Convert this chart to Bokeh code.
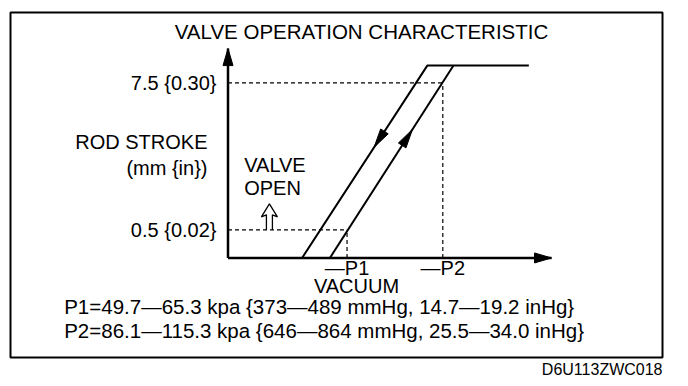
import math
from bokeh.plotting import figure
from bokeh.models import Range1d, Title
from bokeh.core.properties import value
from bokeh.embed import file_html
from bokeh.resources import INLINE

# ---------------- data (schematic: vacuum along x, rod stroke in mm along y) ----------------
STROKE_REST = -0.84          # level of the closed-valve baseline on the drawing
STROKE_FULL = 8.32           # full stroke plateau
closing_vacuum = [22.9, 61.6, 93.0]
closing_stroke = [STROKE_REST, STROKE_FULL, STROKE_FULL]
opening_vacuum = [31.5, 69.7]
opening_stroke = [STROKE_REST, STROKE_FULL]
stroke_ticks = [7.5, 0.5]
stroke_tick_labels = ["7.5 {0.30}", "0.5 {0.02}"]
vacuum_ticks = [66.4, 36.8]            # P2, P1 (paired with stroke ticks)
vacuum_tick_labels = ["\u2014P2", "\u2014P1"]
axis_vacuum_end = 100.0
axis_stroke_end = 9.13
closing_arrow_frac = 0.575
opening_arrow_frac = 0.668
valve_open_vacuum = 12.8       # where the "valve open" marker stands (on the 0.5 mm line)
valve_open_stroke = 0.5
title_text = "VALVE OPERATION CHARACTERISTIC"
y_title_lines = ["ROD STROKE", "(mm {in})"]
x_title_text = "VACUUM"
valve_open_lines = ["VALVE", "OPEN"]
note_lines = [
    "P1=49.7\u201465.3 kpa {373\u2014489 mmHg, 14.7\u201419.2 inHg}",
    "P2=86.1\u2014115.3 kpa {646\u2014864 mmHg, 25.5\u201434.0 inHg}",
]
code_text = "D6U113ZWC018"

# ---------------- layout ----------------
W, H = 680, 380
FL, FT, FR, FB = 10, 12, 662, 357          # frame box in canvas px
PXX, PXY = 3.235, 21.0                     # px per data unit
OX = 227.5                                 # canvas x of vacuum 0
OY = 239.8                                 # canvas y of stroke 0

x0 = -(OX - FL) / PXX
x1 = (FR - OX) / PXX
y1 = (OY - FT) / PXY
y0 = -(FB - OY) / PXY

def X(px):
    return (px - OX) / PXX

def Y(py):
    return (OY - py) / PXY

p = figure(width=W, height=H, x_range=Range1d(x0, x1), y_range=Range1d(y0, y1),
           output_backend="svg", toolbar_location=None, x_axis_type=None, y_axis_type=None,
           min_border_left=FL, min_border_top=FT, min_border_right=W - FR,
           min_border_bottom=H - FB, title=None)
p.grid.visible = False
p.outline_line_color = "black"
p.outline_line_width = 2
p.background_fill_color = "white"
p.border_fill_color = "white"

FONT = value("Liberation Sans")

def arrowhead(tx, ty, ux, uy, length, width):
    # ux, uy: direction in screen px (y up)
    n = math.hypot(ux, uy)
    ux, uy = ux / n, uy / n
    bx, by = -ux * length, -uy * length
    nx, ny = -uy * width / 2, ux * width / 2
    xs = [tx, tx + (bx + nx) / PXX, tx + (bx - nx) / PXX]
    ys = [ty, ty + (by + ny) / PXY, ty + (by - ny) / PXY]
    return xs, ys

# axes
p.line([0, axis_vacuum_end], [STROKE_REST, STROKE_REST], line_color="black", line_width=2.5)
p.line([0, 0], [STROKE_REST, axis_stroke_end], line_color="black", line_width=2.5)
ax_heads = [arrowhead(axis_vacuum_end, STROKE_REST, 1, 0, 17, 10),
            arrowhead(0, axis_stroke_end, 0, 1, 17, 10)]
p.patches([h[0] for h in ax_heads], [h[1] for h in ax_heads], fill_color="black", line_color="black")

# dashed reference lines
for xt, yt in zip(vacuum_ticks, stroke_ticks):
    p.line([0, xt], [yt, yt], line_color="black", line_width=1.2, line_dash="4 3")
    p.line([xt, xt], [STROKE_REST, yt], line_color="black", line_width=1.2, line_dash="4 3")

# characteristic
p.line(closing_vacuum, closing_stroke, line_color="black", line_width=2)
p.line(opening_vacuum, opening_stroke, line_color="black", line_width=2)

# direction arrows
cdx = closing_vacuum[1] - closing_vacuum[0]
cdy = closing_stroke[1] - closing_stroke[0]
ctx = closing_vacuum[0] + closing_arrow_frac * cdx
cty = closing_stroke[0] + closing_arrow_frac * cdy
odx = opening_vacuum[1] - opening_vacuum[0]
ody = opening_stroke[1] - opening_stroke[0]
otx = opening_vacuum[0] + opening_arrow_frac * odx
oty = opening_stroke[0] + opening_arrow_frac * ody
heads = [arrowhead(ctx, cty, -cdx * PXX, -cdy * PXY, 19, 9),
         arrowhead(otx, oty, odx * PXX, ody * PXY, 19, 9)]
p.patches([h[0] for h in heads], [h[1] for h in heads], fill_color="black", line_color="black")

# outlined "valve open" arrow (double-line arrow) standing on the 0.5 mm line
shape_px = [(-3, 0), (-3, 15), (-8, 13), (0, 26), (8, 13), (3, 15), (3, 0)]
p.line([valve_open_vacuum + dx / PXX for dx, _ in shape_px],
       [valve_open_stroke + dy / PXY for _, dy in shape_px],
       line_color="black", line_width=1.3)

# tick labels
p.text(x=[X(216)] * len(stroke_ticks), y=stroke_ticks, text=stroke_tick_labels,
       text_font=FONT, text_font_size="20px", text_align="right", text_baseline="middle",
       text_color="black")
p.text(x=vacuum_ticks, y=[Y(267)] * len(vacuum_ticks), text=vacuum_tick_labels,
       text_font=FONT, text_font_size="20px", text_align="center", text_baseline="middle",
       text_color="black")

# titles
p.text(x=[X(361)], y=[Y(31)], text=[title_text], text_font=FONT, text_font_size="20.5px",
       text_align="center", text_baseline="middle", text_color="black")
p.text(x=[X(207)] * 2, y=[Y(141.7), Y(167)], text=y_title_lines, text_font=FONT,
       text_font_size="20px", text_align="right", text_baseline="middle", text_color="black")
p.text(x=[X(356)], y=[Y(285)], text=[x_title_text], text_font=FONT, text_font_size="20px",
       text_align="center", text_baseline="middle", text_color="black")
p.text(x=[X(243.7)] * 2, y=[Y(164), Y(187)], text=valve_open_lines, text_font=FONT,
       text_font_size="20px", text_align="left", text_baseline="middle", text_color="black")
p.text(x=[X(63.7)] * 2, y=[Y(306), Y(330)], text=note_lines, text_font=FONT,
       text_font_size="20.5px", text_align="left", text_baseline="middle", text_color="black")

p.add_layout(Title(text=code_text, align="right", text_font="Liberation Sans",
                   text_font_size="16px", text_font_style="normal", standoff=2,
                   text_color="black"), "below")

open("out.html", "w").write(file_html(p, INLINE))
